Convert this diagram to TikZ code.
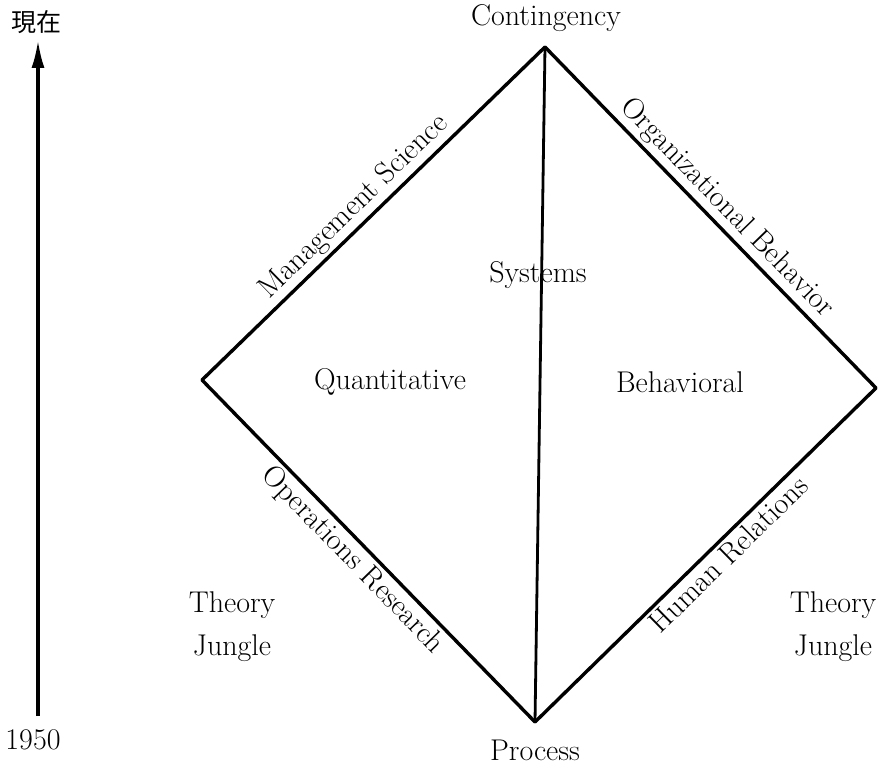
\documentclass[tikz,border=0pt]{standalone}
\usepackage{fontspec}
\newfontfamily\cjk{Noto Sans CJK TC}
\usepackage{tikz}
\usetikzlibrary{arrows.meta,positioning}

\begin{document}
\begin{tikzpicture}[x=1pt,y=-1pt,
  lbl/.style={font=\fontsize{30}{43}\selectfont,inner sep=2pt},
  edge/.style={line width=3.4pt,line cap=round},
  edgelbl/.style={lbl,sloped,inner sep=3pt}]
 \useasboundingbox (0,0) rectangle (881,767);
 % corners of the diamond
 \coordinate (T) at (545,47);
 \coordinate (B) at (535,722);
 \coordinate (L) at (202,380);
 \coordinate (R) at (876,388);
 \draw[edge] (L) -- node[edgelbl,above,pos=0.48]{Management Science} (T);
 \draw[edge] (T) -- node[edgelbl,above,pos=0.51]{Organizational Behavior} (R);
 \draw[edge] (L) -- node[edgelbl,below,pos=0.49]{Operations Research} (B);
 \draw[edge] (B) -- node[edgelbl,below,pos=0.535]{Human Relations} (R);
 \draw[line width=2.8pt] (T) -- (B);
 \node[lbl] (top) at (546,18) {Contingency};
 \node[lbl] (bot) at (535,750) {Process};
 \node[lbl] (sys) at (538,275) {Systems};
 \node[lbl] (quant) at (390,382) {Quantitative};
 \node[lbl] (behav) at (680,382) {Behavioral};
 \node[lbl,align=center] (jungleL) at (232,627) {Theory\\Jungle};
 \node[lbl,align=center] (jungleR) at (833,627) {Theory\\Jungle};
 % time axis
 \node[lbl,font=\cjk\fontsize{25}{27}\selectfont] (now) at (37,22) {現在};
 \node[lbl] (year) at (33,740) {1950};
 \coordinate (axbot) at (38,716);
 \coordinate (axtop) at (38,40);
 \draw[line width=3.2pt,-{Latex[length=28pt,width=13pt]}] (axbot) -- (axtop);
\end{tikzpicture}
\end{document}
